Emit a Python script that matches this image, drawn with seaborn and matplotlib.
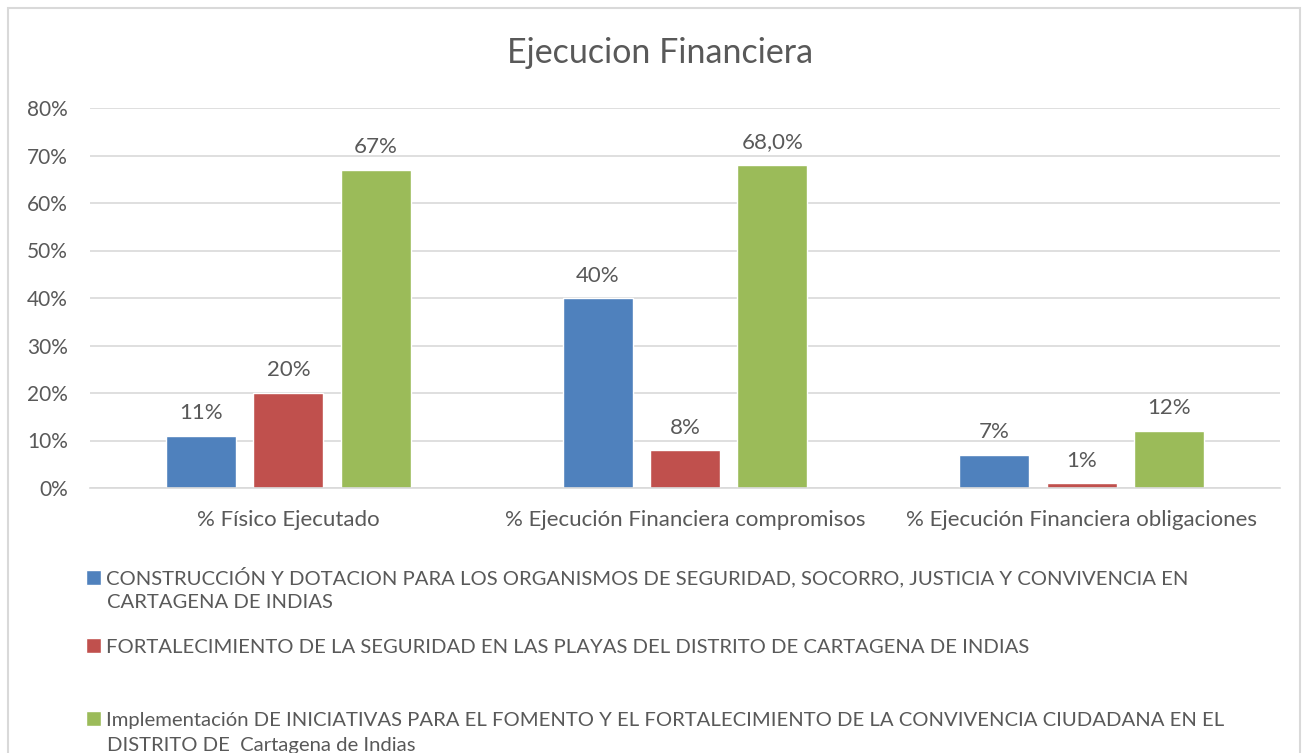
import pandas as pd
import matplotlib
matplotlib.use("Agg")
import matplotlib.pyplot as plt
from matplotlib.patches import Rectangle
from matplotlib.ticker import PercentFormatter
import seaborn as sns

# data
categorias = ["% Físico Ejecutado",
              "% Ejecución Financiera compromisos",
              "% Ejecución Financiera obligaciones"]
series = ["CONSTRUCCIÓN Y DOTACION PARA LOS ORGANISMOS DE SEGURIDAD, SOCORRO, JUSTICIA Y CONVIVENCIA EN CARTAGENA DE INDIAS",
          "FORTALECIMIENTO DE LA SEGURIDAD EN LAS PLAYAS DEL DISTRITO DE CARTAGENA DE INDIAS",
          "Implementación DE INICIATIVAS PARA EL FOMENTO Y EL FORTALECIMIENTO DE LA CONVIVENCIA CIUDADANA EN EL DISTRITO DE  Cartagena de Indias"]
construccion = [0.11, 0.40, 0.07]
fortalecimiento = [0.20, 0.08, 0.01]
implementacion = [0.67, 0.68, 0.12]
etiquetas = [["11%", "40%", "7%"],
             ["20%", "8%", "1%"],
             ["67%", "68,0%", "12%"]]
colores = ["#4F81BD", "#C0504D", "#9BBB59"]

# legend text split in lines the way the reference wraps it
leyenda_lineas = [
    ["CONSTRUCCIÓN Y DOTACION PARA LOS ORGANISMOS DE SEGURIDAD, SOCORRO, JUSTICIA Y CONVIVENCIA EN",
     "CARTAGENA DE INDIAS"],
    ["FORTALECIMIENTO DE LA SEGURIDAD EN LAS PLAYAS DEL DISTRITO DE CARTAGENA DE INDIAS"],
    ["Implementación DE INICIATIVAS PARA EL FOMENTO Y EL FORTALECIMIENTO DE LA CONVIVENCIA CIUDADANA EN EL",
     "DISTRITO DE  Cartagena de Indias"],
]

filas = []
for serie, valores in zip(series, [construccion, fortalecimiento, implementacion]):
    for cat, v in zip(categorias, valores):
        filas.append((cat, serie, v))
df = pd.DataFrame(filas, columns=["Categoria", "Serie", "Valor"])

sns.set_theme(style="white")
plt.rcParams['font.family'] = ['Lato', 'DejaVu Sans']
gris = "#595959"

W, H = 1309, 753
fig = plt.figure(figsize=(W / 100, H / 100), dpi=100)
ax = fig.add_axes([90 / W, 1 - 488 / H, 1190 / W, 380 / H])

sns.barplot(data=df, x="Categoria", y="Valor", hue="Serie", order=categorias,
            hue_order=series, palette=colores, saturation=1, width=0.66, gap=0.2,
            ax=ax, errorbar=None)

ax.set_ylim(0, 0.8)
ax.set_yticks([i / 10 for i in range(9)])
ax.yaxis.set_major_formatter(PercentFormatter(1.0, decimals=0))
ax.grid(axis="y", color="#D9D9D9", linewidth=1.2)
ax.set_axisbelow(True)
for s in ["top", "right", "left"]:
    ax.spines[s].set_visible(False)
ax.spines["bottom"].set_color("#D9D9D9")
ax.spines["bottom"].set_linewidth(1.2)
ax.tick_params(axis="x", length=0, labelsize=16, colors=gris, pad=16)
ax.tick_params(axis="y", length=0, labelsize=15, colors=gris, pad=16)
ax.set_xlabel("")
ax.set_ylabel("")

for cont, labs in zip(ax.containers, etiquetas):
    ax.bar_label(cont, labels=labs, padding=9, fontsize=16, color=gris)

handles, _ = ax.get_legend_handles_labels()
ax.get_legend().remove()

fig.text(660 / W, 1 - 53 / H, "Ejecucion Financiera", ha="center", va="center",
         fontsize=24.5, color=gris)

# legend entries, one per series, placed as in the reference
y_lineas = [577, 647, 720]
for h, lineas, y in zip(handles, leyenda_lineas, y_lineas):
    leg = fig.legend([h], [lineas[0]], loc="center left",
                     bbox_to_anchor=(86 / W, 1 - y / H), frameon=False,
                     handlelength=0.75, handleheight=0.75, handletextpad=0.25,
                     borderpad=0, borderaxespad=0, fontsize=14.6)
    for t in leg.get_texts():
        t.set_color(gris)
    for extra in lineas[1:]:
        fig.text(107 / W, 1 - (y + 25) / H, extra, ha="left", va="center",
                 fontsize=14.6, color=gris)

fig.patches.append(Rectangle((8 / W, -0.1), 1292 / W, 1.1 - 8 / H,
                             transform=fig.transFigure, fill=False,
                             edgecolor="#D9D9D9", linewidth=1.5))

fig.savefig("out.png", dpi=100, facecolor="white")
